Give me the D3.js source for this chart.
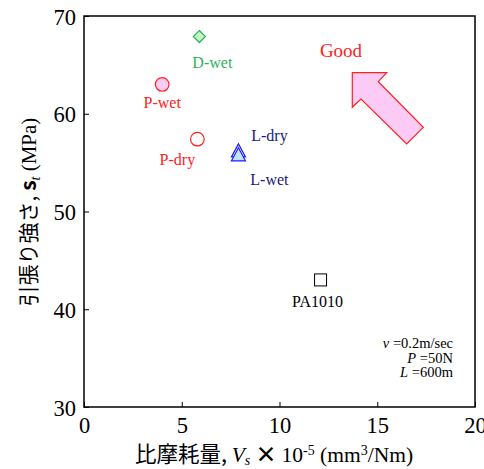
<!DOCTYPE html>
<html>
<head>
<meta charset="utf-8">
<script src="https://cdn.jsdelivr.net/npm/d3@7"></script>
<style>
  body { margin: 0; background: #fff; }
  svg text { font-family: "Liberation Serif", "DejaVu Serif", "Times New Roman", serif; }
  svg text tspan.jp { font-family: "Noto Sans CJK JP", "Noto Sans", sans-serif; }
</style>
</head>
<body>
<div id="chart"></div>
<script>
// data
const names = ['D-wet', 'P-wet', 'P-dry', 'L-dry', 'L-wet', 'PA1010'];
const wear = [5.9, 4.0, 5.8, 7.9, 7.9, 12.1];          // Vs x 10^-5 mm3/Nm
const strength = [67.9, 63.0, 57.4, 56.1, 55.7, 43.0]; // MPa
const xTicks = [0, 5, 10, 15, 20];
const yTicks = [30, 40, 50, 60, 70];

const width = 484, height = 469;
const margin = { left: 84, right: 9, top: 16, bottom: 62 };
const serif = '"Liberation Serif", "DejaVu Serif", serif';

const svg = d3.select('#chart').append('svg')
  .attr('width', width)
  .attr('height', height);

const x = d3.scaleLinear().domain([0, 20]).range([margin.left, width - margin.right]);
const y = d3.scaleLinear().domain([30, 70]).range([height - margin.bottom, margin.top]);

// frame
svg.append('rect')
  .attr('x', x(0)).attr('y', y(70))
  .attr('width', x(20) - x(0)).attr('height', y(30) - y(70))
  .attr('fill', 'none').attr('stroke', '#000').attr('stroke-width', 1.5);

// axes with inward ticks
const xAxis = svg.append('g')
  .attr('transform', `translate(0,${y(30)})`)
  .call(d3.axisBottom(x).tickValues(xTicks).tickSizeInner(-5).tickSizeOuter(0).tickPadding(9));
const yAxis = svg.append('g')
  .attr('transform', `translate(${x(0)},0)`)
  .call(d3.axisLeft(y).tickValues(yTicks).tickSizeInner(-5).tickSizeOuter(0).tickPadding(8));
[xAxis, yAxis].forEach(a => {
  a.attr('font-family', serif);
  a.select('.domain').remove();
  a.selectAll('text').attr('font-size', 22.5).attr('fill', '#000');
});
xAxis.selectAll('text').attr('dy', '0.76em');
yAxis.selectAll('text').attr('dy', '0.36em');

// markers
const pt = i => [x(wear[i]), y(strength[i])];

let [dx, dy] = pt(0);
svg.append('path')
  .attr('d', `M${dx},${dy - 6}L${dx + 6},${dy}L${dx},${dy + 6}L${dx - 6},${dy}Z`)
  .attr('fill', '#c6f5c6').attr('stroke', '#2db35a').attr('stroke-width', 1.2);

svg.append('circle').attr('cx', pt(1)[0]).attr('cy', pt(1)[1]).attr('r', 6.8)
  .attr('fill', '#fccbf0').attr('stroke', '#ff2020').attr('stroke-width', 1.2);
svg.append('circle').attr('cx', pt(2)[0]).attr('cy', pt(2)[1]).attr('r', 6.8)
  .attr('fill', 'none').attr('stroke', '#ff2020').attr('stroke-width', 1.2);

const tri = (cx, cy) => `M${cx},${cy - 8}L${cx + 7},${cy + 5}L${cx - 7},${cy + 5}Z`;
svg.append('path').attr('d', tri(...pt(3)))
  .attr('fill', '#fff').attr('stroke', '#1a1aff').attr('stroke-width', 1.2);
svg.append('path').attr('d', tri(...pt(4)))
  .attr('fill', '#bfe6ff').attr('stroke', '#1a1aff').attr('stroke-width', 1.2);

let [sx, sy] = pt(5);
svg.append('rect').attr('x', sx - 6).attr('y', sy - 6).attr('width', 12).attr('height', 12)
  .attr('fill', '#fff').attr('stroke', '#000').attr('stroke-width', 1);

// point labels
const labels = [
  { i: 0, dx: 13, dy: 31, color: '#2db35a' },
  { i: 1, dx: 0, dy: 24, color: '#ff2020' },
  { i: 2, dx: -20, dy: 26, color: '#ff2020' },
  { i: 3, dx: 31, dy: -11, color: '#1a1a7a' },
  { i: 4, dx: 31, dy: 29, color: '#1a1a7a' },
  { i: 5, dx: -3, dy: 27, color: '#000' }
];
labels.forEach(l => {
  const [px, py] = pt(l.i);
  svg.append('text')
    .attr('x', px + l.dx).attr('y', py + l.dy)
    .attr('text-anchor', 'middle')
    .attr('font-size', 16)
    .attr('fill', l.color)
    .text(names[l.i]);
});

// "Good" arrow
svg.append('text').attr('x', 341).attr('y', 57).attr('text-anchor', 'middle')
  .attr('font-size', 19).attr('fill', '#ff2020').text('Good');
svg.append('path')
  .attr('d', 'M352.3,72.7L386.7,72.7L378.3,81.7L423.3,127.3L406.7,144L361,99L352.3,107.3Z')
  .attr('fill', '#fccbf5').attr('stroke', '#ff2020').attr('stroke-width', 1.2);

// test conditions
const cond = [['v', ' =0.2m/sec'], ['P', ' =50N'], ['L', ' =600m']];
cond.forEach((c, k) => {
  const t = svg.append('text').attr('x', 453).attr('y', 348 + k * 14.5)
    .attr('text-anchor', 'end').attr('font-size', 14.5);
  t.append('tspan').attr('font-style', 'italic').text(c[0]);
  t.append('tspan').text(c[1]);
});

// x axis title
const xt = svg.append('text').attr('x', 274).attr('y', 462)
  .attr('text-anchor', 'middle').attr('font-size', 21.5).attr('fill', '#000');
xt.append('tspan').attr('class', 'jp').text('比摩耗量, ');
xt.append('tspan').attr('font-style', 'italic').text('V');
xt.append('tspan').attr('font-style', 'italic').attr('font-size', 14).attr('dy', 3).text('s');
xt.append('tspan').attr('dy', -3).attr('class', 'jp').attr('font-weight', 'bold').text(' × ');
xt.append('tspan').text('10');
xt.append('tspan').attr('font-size', 14).attr('dy', -7).text('-5');
xt.append('tspan').attr('dy', 7).text(' (mm');
xt.append('tspan').attr('font-size', 14).attr('dy', -7).text('3');
xt.append('tspan').attr('dy', 7).text('/Nm)');

// y axis title
const yt = svg.append('text')
  .attr('transform', `translate(36,${212}) rotate(-90)`)
  .attr('text-anchor', 'middle').attr('font-size', 21).attr('fill', '#000');
yt.append('tspan').attr('class', 'jp').text('引張り強さ, ');
yt.append('tspan').attr('class', 'jp').attr('font-weight', 'bold').text('s');
yt.append('tspan').attr('font-style', 'italic').attr('font-size', 14).attr('dy', 4).text('t');
yt.append('tspan').attr('dy', -4).text(' (MPa)');
</script>
</body>
</html>
